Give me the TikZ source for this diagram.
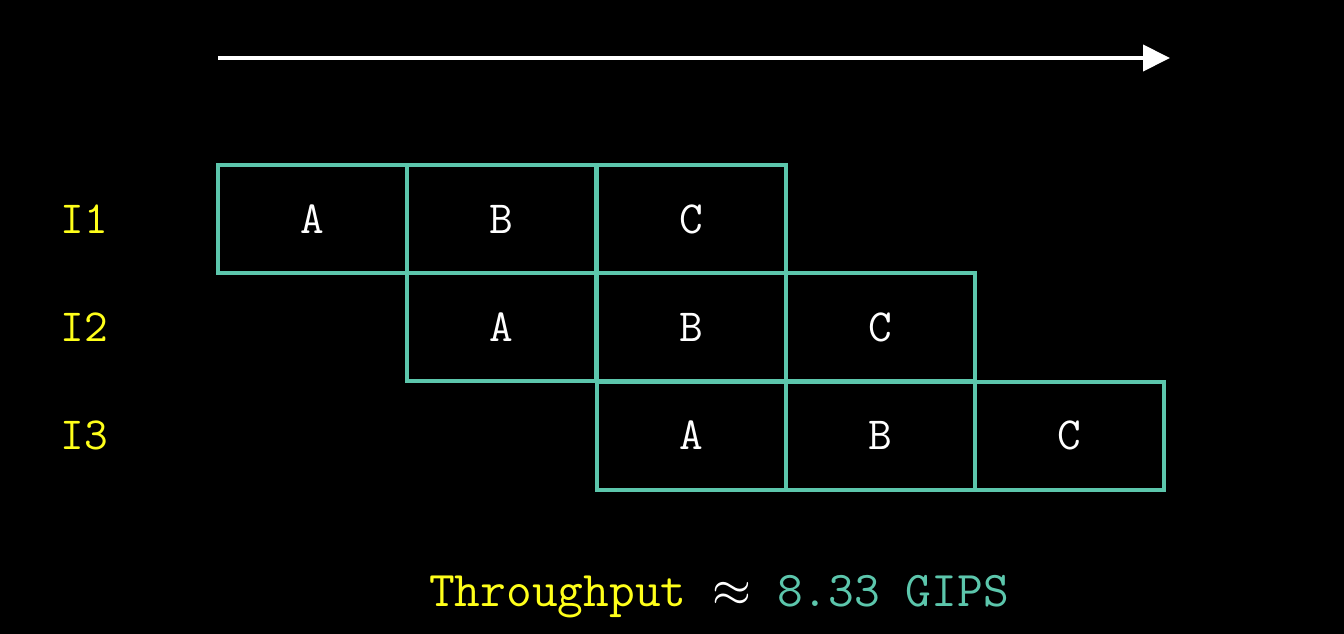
\RequirePackage{fix-cm}
\documentclass[tikz,border=0pt]{standalone}
\usetikzlibrary{arrows.meta}
\definecolor{tealc}{HTML}{5CC6AC}
\definecolor{yel}{HTML}{FFFF1A}
\begin{document}
\begin{tikzpicture}[x=1pt,y=-1pt,
  cell/.style={draw=tealc,line width=4pt,minimum width=189pt,minimum height=108pt,inner sep=0pt,text=white,font=\ttfamily\fontsize{46}{50}\selectfont},
  rowlab/.style={text=yel,font=\ttfamily\fontsize{46}{50}\selectfont},
  timearrow/.style={draw=white,line width=4pt,-{Triangle[length=27pt,width=26pt]}}]
\fill[black] (0,0) rectangle (1344,634);
\useasboundingbox (0,0) rectangle (1344,634);
\coordinate (ts) at (218,58);
\coordinate (te) at (1170,58);
\draw[timearrow] (ts) -- (te);
% row 1
\node[cell] (a1) at (312.5,219) {A};
\node[cell] (b1) at (501.5,219) {B};
\node[cell] (c1) at (691,219) {C};
% row 2
\node[cell] (a2) at (501.5,327) {A};
\node[cell] (b2) at (691,327) {B};
\node[cell] (c2) at (880.5,327) {C};
% row 3
\node[cell] (a3) at (691,435.5) {A};
\node[cell] (b3) at (880.5,435.5) {B};
\node[cell] (c3) at (1069.5,435.5) {C};
\node[rowlab] (i1) at (84,219) {I1};
\node[rowlab] (i2) at (84,327) {I2};
\node[rowlab] (i3) at (84,435.5) {I3};
\node[font=\ttfamily\fontsize{50}{55}\selectfont,text=white] (tp) at (719,597) {\textcolor{yel}{Throughput} $\approx$ \textcolor{tealc}{8.33 GIPS}};
\end{tikzpicture}
\end{document}
